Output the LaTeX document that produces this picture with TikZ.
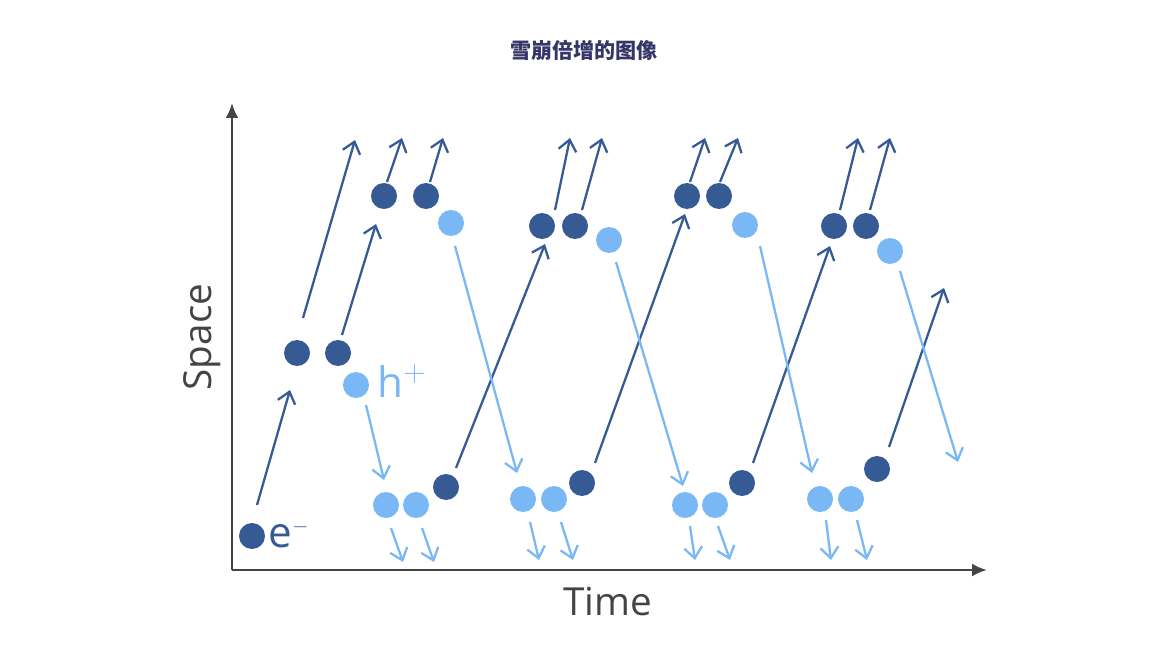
\documentclass[tikz,border=0pt]{standalone}
\usepackage{fontspec}
\setmainfont{Open Sans}
\newfontfamily\cjk{Noto Sans CJK SC}
\usetikzlibrary{arrows.meta}
\definecolor{dk}{HTML}{365A94}
\definecolor{lt}{HTML}{7AB8F5}
\definecolor{ax}{HTML}{444444}
\begin{document}
\begin{tikzpicture}[x=0.02cm,y=-0.02cm,
  dd/.style={circle,fill=dk,inner sep=0,minimum size=0.52cm},
  ld/.style={circle,fill=lt,inner sep=0,minimum size=0.52cm},
  da/.style={draw=dk,line width=1.3pt,-{Straight Barb[length=2.2mm,width=3.6mm]}},
  la/.style={draw=lt,line width=1.3pt,-{Straight Barb[length=2.2mm,width=3.6mm]}}]
\path[use as bounding box] (0,0) rectangle (1168,658);
\node[font=\cjk\bfseries\large,text=ax!80!blue] (title) at (584,50) {雪崩倍增的图像};
\coordinate (o) at (232,570);
\draw[ax,line width=1.5pt,-{Latex[length=3mm,width=2.6mm]}] (o) -- (232,103);
\draw[ax,line width=1.5pt,-{Latex[length=3mm,width=2.6mm]}] (o) -- (987,570);
\node[rotate=90,font=\fontsize{22}{24}\selectfont,text=ax] (sp) at (202,337) {Space};
\node[font=\fontsize{22}{24}\selectfont,text=ax] (tm) at (608,601) {Time};
\foreach \x/\y in {252/536,297/353,338/353,384/196,426/196,446/487,582/483,542/226,575/226,687/196,719/196,742/483,834/226,866/226,877/469}
  \node[dd] at (\x,\y) {};
\foreach \x/\y in {356/385,451/223,386/505,416/505,523/499,554/499,609/240,745/225,685/505,715/505,890/251,820/499,851/499}
  \node[ld] at (\x,\y) {};
\node[text=dk,font=\fontsize{24}{26}\selectfont] (e) at (289,534) {e$^{\scriptscriptstyle -}$};
\node[text=lt,font=\fontsize{24}{26}\selectfont] (h) at (402,381) {h$^{+}$};
\foreach \a/\b/\c/\d in {257/505/290/390, 303/318/355/140, 342/335/376/224, 387/182/402/138, 430/182/443/138, 456/468/545/244, 555/210/570/138, 582/210/602/138, 595/463/685/214, 690/182/705/138, 720/182/738/138, 753/463/830/246, 840/210/858/138, 870/210/890/138, 889/447/944/288}
  \draw[da] (\a,\b) -- (\c,\d);
\foreach \a/\b/\c/\d in {366/405/384/480, 455/246/517/473, 616/262/683/486, 760/246/812/473, 900/271/958/462, 391/528/403/562, 422/528/434/562, 530/522/539/560, 561/522/573/560, 690/526/695/560, 718/526/730/560, 826/520/831/560, 857/520/867/560}
  \draw[la] (\a,\b) -- (\c,\d);
\end{tikzpicture}
\end{document}
